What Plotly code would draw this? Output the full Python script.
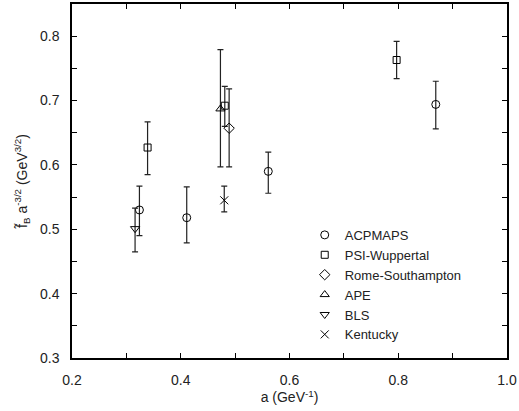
import plotly.graph_objects as go

# ---- data ----
acp_x = [0.324, 0.411, 0.561, 0.869]
acp_y = [0.530, 0.518, 0.590, 0.694]
acp_hi = [0.567, 0.566, 0.620, 0.730]
acp_lo = [0.490, 0.479, 0.556, 0.656]

psi_x = [0.339, 0.481, 0.797]
psi_y = [0.627, 0.692, 0.763]
psi_hi = [0.667, 0.722, 0.792]
psi_lo = [0.585, 0.660, 0.734]

rome_x = [0.489]
rome_y = [0.657]
rome_hi = [0.718]
rome_lo = [0.597]

ape_x = [0.473]
ape_y = [0.687]
ape_hi = [0.779]
ape_lo = [0.597]

bls_x = [0.316]
bls_y = [0.501]
bls_hi = [0.533]
bls_lo = [0.465]

ken_x = [0.480]
ken_y = [0.545]
ken_hi = [0.567]
ken_lo = [0.527]

series = [
    ("ACPMAPS", acp_x, acp_y, acp_hi, acp_lo, "circle-open", 8),
    ("PSI-Wuppertal", psi_x, psi_y, psi_hi, psi_lo, "square-open", 7),
    ("Rome-Southampton", rome_x, rome_y, rome_hi, rome_lo, "diamond-open", 8),
    ("APE", ape_x, ape_y, ape_hi, ape_lo, "triangle-up-open", 8),
    ("BLS", bls_x, bls_y, bls_hi, bls_lo, "triangle-down-open", 8),
    ("Kentucky", ken_x, ken_y, ken_hi, ken_lo, "x-thin-open", 8),
]

fig = go.Figure()
for name, xs, ys, hi, lo, sym, sz in series:
    fig.add_trace(go.Scatter(
        x=xs, y=ys, mode="markers", name=name,
        marker=dict(symbol=sym, size=sz, color="black",
                    line=dict(color="black", width=1)),
        error_y=dict(type="data", symmetric=False,
                     array=[h - y for h, y in zip(hi, ys)],
                     arrayminus=[y - l for l, y in zip(lo, ys)],
                     color="#222222", thickness=1.2, width=3),
    ))

font = dict(family="Liberation Sans, Arial, sans-serif", size=14, color="#222222")

fig.update_layout(
    width=519, height=411,
    margin=dict(l=72, r=12, t=4, b=53, autoexpand=False),
    paper_bgcolor="white", plot_bgcolor="white",
    font=font,
    showlegend=True,
    legend=dict(x=0.535, y=0.39, xanchor="left", yanchor="top",
                bgcolor="rgba(0,0,0,0)", font=dict(size=13),
                tracegroupgap=0),
)
fig.update_xaxes(
    range=[0.2, 1.0], dtick=0.2, tickformat=".1f",
    showgrid=False, zeroline=False, automargin=False,
    showline=True, linecolor="black", linewidth=1.5, mirror="allticks",
    ticks="inside", ticklen=5, tickcolor="black", tickwidth=1,
    minor=dict(dtick=0.1, ticks="inside", ticklen=5, tickcolor="black", tickwidth=1),
    ticklabelstandoff=8,
    title=dict(text="a (GeV<sup>-1</sup>)", standoff=4, font=dict(size=14)),
)
fig.update_yaxes(
    range=[0.3, 0.85], dtick=0.1, tickformat=".1f",
    showgrid=False, zeroline=False, automargin=False,
    showline=True, linecolor="black", linewidth=1.5, mirror="allticks",
    ticks="inside", ticklen=5, tickcolor="black", tickwidth=1,
    minor=dict(dtick=0.05, ticks="inside", ticklen=5, tickcolor="black", tickwidth=1),
    ticklabelstandoff=8,
    title=dict(text="f\u0303<sub>B</sub> a<sup>-3/2</sup> (GeV<sup>3/2</sup>)",
               standoff=9, font=dict(size=14)),
)

fig.write_html("out.html", config={"displayModeBar": False},
               post_script="document.body.style.margin='0';")
